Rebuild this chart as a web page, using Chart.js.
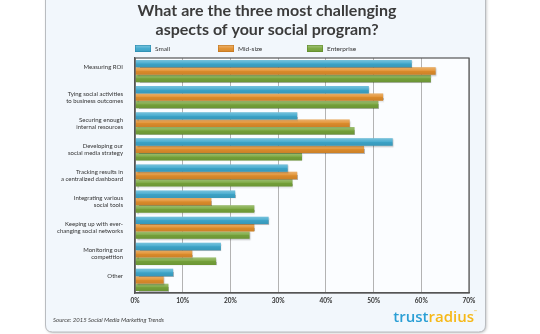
<!DOCTYPE html>
<html>
<head>
<meta charset="utf-8">
<script src="https://cdn.jsdelivr.net/npm/chart.js@4.4.1/dist/chart.umd.min.js"></script>
<style>
  html, body { margin: 0; padding: 0; background: #fff; }
  #chart { display: block; }
</style>
</head>
<body>
<canvas id="chart" width="540" height="334"></canvas>
<script>
// Survey answers, % of respondents per company size
const categories = [
    ['Measuring ROI', ''],
    ['Tying social activities', 'to business outcomes'],
    ['Securing enough', 'internal resources'],
    ['Developing our', 'social media strategy'],
    ['Tracking results in', 'a centralized dashboard'],
    ['Integrating various', 'social tools'],
    ['Keeping up with ever-', 'changing social networks'],
    ['Monitoring our', 'competition'],
    ['Other', ''],
];
const seriesNames = ['Small', 'Mid-size', 'Enterprise'];
const small = [58, 49, 34, 54, 32, 21, 28, 18, 8];
const midSize = [63, 52, 45, 48, 34, 16, 25, 12, 6];
const enterprise = [62, 51, 46, 35, 33, 25, 24, 17, 7];
const xTicks = [0, 10, 20, 30, 40, 50, 60, 70];

const colors = ['#3ea8cd', '#e28f2c', '#77a53b'];
const borders = ['#2b8aae', '#c07520', '#5e8a2c'];
const FONT = 'Lato, "Open Sans", sans-serif';

function roundRect(ctx, x, y, w, h, r) {
    ctx.beginPath();
    ctx.moveTo(x + r, y);
    ctx.lineTo(x + w - r, y);
    ctx.quadraticCurveTo(x + w, y, x + w, y + r);
    ctx.lineTo(x + w, y + h - r);
    ctx.quadraticCurveTo(x + w, y + h, x + w - r, y + h);
    ctx.lineTo(x + r, y + h);
    ctx.quadraticCurveTo(x, y + h, x, y + h - r);
    ctx.lineTo(x, y + r);
    ctx.quadraticCurveTo(x, y, x + r, y);
    ctx.closePath();
}

// card behind everything + plot area fill
const cardPlugin = {
    id: 'card',
    beforeDraw(chart) {
        const { ctx, chartArea: a } = chart;
        ctx.save();
        ctx.fillStyle = '#fff';
        ctx.fillRect(0, 0, chart.width, chart.height);
        ctx.shadowColor = 'rgba(0,0,0,0.25)';
        ctx.shadowBlur = 3;
        ctx.shadowOffsetX = 1;
        ctx.shadowOffsetY = 1;
        roundRect(ctx, 45.5, -10, 440, 342, 7);
        ctx.fillStyle = '#f2f7fc';
        ctx.fill();
        ctx.shadowColor = 'transparent';
        ctx.strokeStyle = '#b9bcc0';
        ctx.lineWidth = 1;
        ctx.stroke();
        ctx.fillStyle = '#fbfdff';
        ctx.fillRect(a.left, a.top, a.right - a.left, a.bottom - a.top);
        ctx.restore();
    },
    afterDraw(chart) {
        const { ctx, chartArea: a } = chart;
        ctx.save();
        ctx.strokeStyle = '#555';
        ctx.lineWidth = 1.2;
        ctx.strokeRect(a.left, a.top, a.right - a.left, a.bottom - a.top);

        // title
        ctx.fillStyle = '#3b3b3b';
        ctx.textAlign = 'center';
        ctx.textBaseline = 'alphabetic';
        ctx.font = 'bold 16px ' + FONT;
        ctx.fillText('What are the three most challenging', 267, 16);
        ctx.fillText('aspects of your social program?', 267, 35);

        // legend
        const legendX = [135, 218, 307];
        ctx.textAlign = 'left';
        ctx.textBaseline = 'middle';
        ctx.font = '6.5px ' + FONT;
        chart.data.datasets.forEach((ds, i) => {
            const x = legendX[i];
            const g = ctx.createLinearGradient(0, 45, 0, 52);
            g.addColorStop(0, 'rgba(255,255,255,0.35)');
            g.addColorStop(0.5, 'rgba(255,255,255,0.05)');
            g.addColorStop(1, 'rgba(0,0,0,0.08)');
            ctx.fillStyle = ds.backgroundColor;
            ctx.fillRect(x, 45, 16, 7);
            ctx.fillStyle = g;
            ctx.fillRect(x, 45, 16, 7);
            ctx.strokeStyle = borders[i];
            ctx.lineWidth = 0.6;
            ctx.strokeRect(x + 0.3, 45.3, 15.4, 6.4);
            ctx.fillStyle = '#333';
            ctx.fillText(ds.label, x + 20, 48.8);
        });

        // source note
        ctx.font = 'italic 6px ' + FONT;
        ctx.fillStyle = '#444';
        ctx.fillText('Source: 2015 Social Media Marketing Trends', 53, 320);

        // logo
        ctx.font = '600 15px "Open Sans", ' + FONT;
        ctx.textBaseline = 'alphabetic';
        const tw = ctx.measureText('trust').width;
        const rw = ctx.measureText('radius').width;
        const lx = 474 - tw - rw;
        ctx.fillStyle = '#2b9fd5';
        ctx.fillText('trust', lx, 322);
        ctx.fillStyle = '#f6b817';
        ctx.fillText('radius', lx + tw, 322);
        ctx.font = '4px ' + FONT;
        ctx.fillText('™', lx + tw + rw, 313);
        ctx.restore();
    },
};

// soft shadow under bars and a light top highlight
const barShade = {
    id: 'barShade',
    beforeDatasetDraw(chart) {
        const ctx = chart.ctx;
        ctx.save();
        ctx.shadowColor = 'rgba(0,0,0,0.28)';
        ctx.shadowBlur = 1.5;
        ctx.shadowOffsetX = 1;
        ctx.shadowOffsetY = 1;
    },
    afterDatasetDraw(chart, args) {
        const ctx = chart.ctx;
        ctx.restore();
        ctx.save();
        args.meta.data.forEach((bar) => {
            const { x, y, base, height } = bar.getProps(['x', 'y', 'base', 'height'], true);
            const top = y - height / 2;
            const g = ctx.createLinearGradient(0, top, 0, top + height);
            g.addColorStop(0, 'rgba(255,255,255,0.30)');
            g.addColorStop(0.45, 'rgba(255,255,255,0.08)');
            g.addColorStop(0.55, 'rgba(0,0,0,0.04)');
            g.addColorStop(1, 'rgba(0,0,0,0.10)');
            ctx.fillStyle = g;
            ctx.fillRect(base, top, x - base, height);
        });
        ctx.restore();
    },
};

new Chart(document.getElementById('chart'), {
    type: 'bar',
    data: {
        labels: categories,
        datasets: [
            { label: seriesNames[0], data: small, backgroundColor: colors[0] },
            { label: seriesNames[1], data: midSize, backgroundColor: colors[1] },
            { label: seriesNames[2], data: enterprise, backgroundColor: colors[2] },
        ],
    },
    options: {
        indexAxis: 'y',
        responsive: false,
        animation: false,
        devicePixelRatio: 1,
        categoryPercentage: 0.85,
        barPercentage: 1,
        layout: { padding: { top: 58, right: 71, bottom: 0, left: 0 } },
        plugins: {
            legend: { display: false },
            tooltip: { enabled: false },
        },
        scales: {
            x: {
                min: 0,
                max: 70,
                afterBuildTicks: (scale) => {
                    scale.ticks = xTicks.map((v) => ({ value: v }));
                },
                afterFit: (scale) => { scale.height = 41; },
                ticks: {
                    callback: (v) => v + '%',
                    color: '#333',
                    font: { family: FONT, size: 6.5, weight: 'bold' },
                    padding: 4,
                    maxRotation: 0,
                },
                grid: { color: '#b3b3b3', lineWidth: 1, drawTicks: false },
                border: { color: '#555', width: 1.2 },
            },
            y: {
                afterFit: (scale) => { scale.width = 135; },
                ticks: {
                    color: '#333',
                    font: { family: FONT, size: 6, lineHeight: 1.17 },
                    padding: 4,
                },
                grid: { display: false },
                border: { color: '#555', width: 1.2 },
            },
        },
    },
    plugins: [cardPlugin, barShade],
});
</script>
</body>
</html>
